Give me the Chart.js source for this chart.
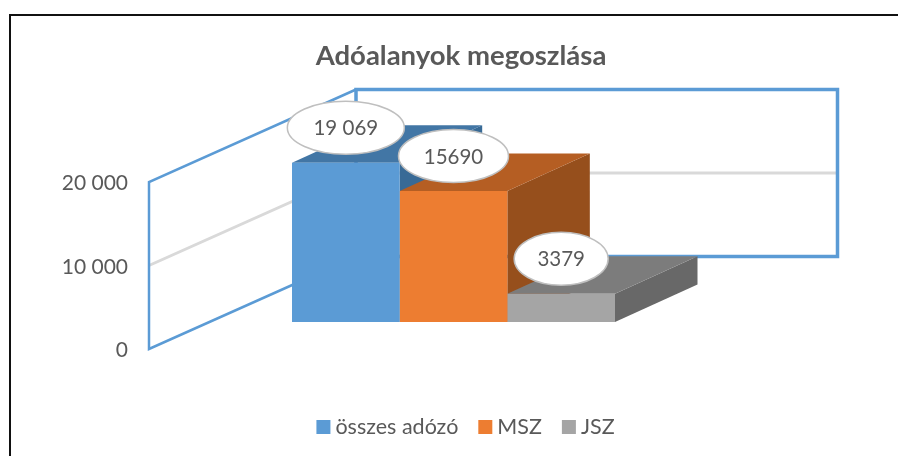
<!DOCTYPE html>
<html>
<head>
<meta charset="utf-8">
<script src="https://cdn.jsdelivr.net/npm/chart.js@4"></script>
<style>
    html, body { margin: 0; padding: 0; background: #fff; }
    #wrap { width: 898px; height: 456px; }
</style>
</head>
<body>
<div id="wrap"><canvas id="chart" width="898" height="456"></canvas></div>
<script>
    const categories = ['Adóalanyok'];
    const seriesNames = ['összes adózó', 'MSZ', 'JSZ'];
    const seriesValues = [19069, 15690, 3379];
    const valueLabels = ['19 069', '15690', '3379'];
    const tickValues = [0, 10000, 20000];
    const frontColors = ['#5B9BD5', '#ED7D31', '#A5A5A5'];
    const topColors = ['#4276A5', '#B55E23', '#7C7C7C'];
    const sideColors = ['#386A96', '#964F1C', '#686868'];

    // how far the back wall and the bars sit from the axis plane
    const wallDepth = { x: 207, y: -92.5 };
    const wallRightInset = 60.5;
    const barShift = { x: -70, y: -27 };
    const barDepth = { x: 82.5, y: -37.5 };
    const ovalSizes = [{ rx: 58.5, ry: 26.5 }, { rx: 55, ry: 26.5 }, { rx: 47, ry: 26.5 }];

    function poly(ctx, points, fill) {
        ctx.beginPath();
        points.forEach((p, i) => i ? ctx.lineTo(p[0], p[1]) : ctx.moveTo(p[0], p[1]));
        ctx.closePath();
        ctx.fillStyle = fill;
        ctx.fill();
    }

    // frame, walls, 3D faces of the bars, value ovals and the legend row
    const walls3d = {
        id: 'walls3d',
        beforeDraw(chart) {
            const ctx = chart.ctx;
            ctx.save();
            ctx.strokeStyle = '#111';
            ctx.lineWidth = 2;
            ctx.beginPath();
            ctx.moveTo(10, 456);
            ctx.lineTo(10, 15);
            ctx.lineTo(898, 15);
            ctx.stroke();
            ctx.restore();
        },
        beforeDatasetsDraw(chart) {
            const ctx = chart.ctx;
            const y = chart.scales.y;
            const left = chart.chartArea.left;
            const right = chart.chartArea.right - wallRightInset;
            const backX = left + wallDepth.x;
            const y0 = y.getPixelForValue(0);
            const yMid = y.getPixelForValue(10000);
            const yTop = y.getPixelForValue(20000);

            ctx.save();
            ctx.strokeStyle = '#D9D9D9';
            ctx.lineWidth = 3;
            ctx.beginPath();
            ctx.moveTo(left, yMid);
            ctx.lineTo(backX, yMid + wallDepth.y);
            ctx.lineTo(right, yMid + wallDepth.y);
            ctx.stroke();

            ctx.strokeStyle = '#5B9BD5';
            ctx.lineWidth = 2.5;
            ctx.beginPath();
            ctx.moveTo(backX, yTop + wallDepth.y);
            ctx.lineTo(left, yTop);
            ctx.lineTo(left, y0);
            ctx.lineTo(backX, y0 + wallDepth.y);
            ctx.stroke();

            ctx.lineWidth = 3.5;
            ctx.beginPath();
            ctx.rect(backX, yTop + wallDepth.y, right - backX, y0 - yTop);
            ctx.stroke();
            ctx.restore();

            ctx.save();
            ctx.translate(barShift.x, barShift.y);
            chart.data.datasets.forEach((ds, i) => {
                const bar = chart.getDatasetMeta(i).data[0];
                const l = bar.x - bar.width / 2;
                const r = bar.x + bar.width / 2;
                const dx = barDepth.x;
                const dy = barDepth.y;
                poly(ctx, [[r, bar.y], [r + dx, bar.y + dy], [r + dx, bar.base + dy], [r, bar.base]], sideColors[i]);
                poly(ctx, [[l, bar.y], [l + dx, bar.y + dy], [r + dx, bar.y + dy], [r, bar.y]], topColors[i]);
            });
            // fronts are drawn by Chart.js inside this same translate
        },
        afterDatasetsDraw(chart) {
            const ctx = chart.ctx;
            ctx.restore();

            chart.data.datasets.forEach((ds, i) => {
                const bar = chart.getDatasetMeta(i).data[0];
                const ox = bar.x + barShift.x;
                const oy = bar.y + barShift.y - 35;
                ctx.save();
                ctx.beginPath();
                ctx.ellipse(ox, oy, ovalSizes[i].rx, ovalSizes[i].ry, 0, 0, Math.PI * 2);
                ctx.fillStyle = '#fff';
                ctx.fill();
                ctx.strokeStyle = '#BFBFBF';
                ctx.lineWidth = 1.5;
                ctx.stroke();
                ctx.fillStyle = '#595959';
                ctx.font = '20.5px Lato';
                ctx.textAlign = 'center';
                ctx.textBaseline = 'middle';
                ctx.fillText(valueLabels[i], ox, oy + 1);
                ctx.restore();
            });

            // legend row, tighter box-to-text gap than the built-in one allows
            ctx.save();
            ctx.font = '21.5px Lato';
            ctx.textBaseline = 'middle';
            ctx.fillStyle = '#595959';
            const widths = seriesNames.map(n => ctx.measureText(n).width);
            const total = widths.reduce((a, b) => a + b, 0) + 3 * (14 + 5) + 2 * 20;
            let x = 465.5 - total / 2;
            seriesNames.forEach((name, i) => {
                ctx.fillStyle = frontColors[i];
                ctx.fillRect(x, 420, 14, 14);
                ctx.fillStyle = '#595959';
                ctx.fillText(name, x + 19, 427);
                x += 19 + widths[i] + 20;
            });
            ctx.restore();
        }
    };

    new Chart(document.getElementById('chart'), {
        type: 'bar',
        plugins: [walls3d],
        data: {
            labels: categories,
            datasets: seriesNames.map((name, i) => ({
                label: name,
                data: [seriesValues[i]],
                backgroundColor: frontColors[i],
                clip: false
            }))
        },
        options: {
            responsive: false,
            animation: false,
            layout: { padding: { left: 24, right: 0, top: 30, bottom: 107 } },
            datasets: { bar: { categoryPercentage: 323 / 749, barPercentage: 1 } },
            scales: {
                x: { display: false },
                y: {
                    min: 0,
                    max: 20000,
                    afterFit(scale) { scale.width = 125; },
                    afterBuildTicks(scale) { scale.ticks = tickValues.map(v => ({ value: v })); },
                    border: { display: false },
                    grid: { display: false, drawTicks: false },
                    ticks: {
                        padding: 21,
                        labelOffset: 1.5,
                        color: '#595959',
                        font: { family: 'Lato', size: 21 },
                        callback: v => String(v).replace(/\B(?=(\d{3})+$)/g, ' ')
                    }
                }
            },
            plugins: {
                tooltip: { enabled: false },
                legend: { display: false },
                title: {
                    display: true,
                    text: 'Adóalanyok megoszlása',
                    color: '#595959',
                    font: { family: 'Lato', size: 27.5, weight: 'bold' },
                    padding: { top: 10, bottom: 109 }
                }
            }
        }
    });
</script>
</body>
</html>
